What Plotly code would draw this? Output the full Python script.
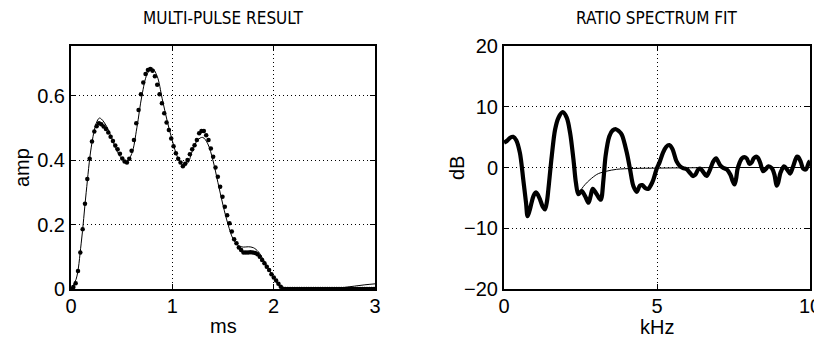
import plotly.graph_objects as go

# ---------------- data: left panel (multi-pulse result) ----------------
SAMPLE_STEP_MS = 0.023
pulse_amp = [
    0.000, 0.006, 0.018, 0.056, 0.113, 0.185, 0.264, 0.341, 0.404, 0.457,
    0.488, 0.505, 0.514, 0.511, 0.504, 0.496, 0.485, 0.472, 0.459, 0.445,
    0.433, 0.419, 0.405, 0.395, 0.392, 0.404, 0.429, 0.462, 0.514, 0.555,
    0.604, 0.640, 0.667, 0.679, 0.682, 0.677, 0.660, 0.633, 0.604, 0.576,
    0.545, 0.516, 0.493, 0.467, 0.443, 0.421, 0.404, 0.392, 0.381, 0.388,
    0.400, 0.418, 0.433, 0.446, 0.462, 0.483, 0.490, 0.490, 0.477, 0.462,
    0.436, 0.410, 0.377, 0.348, 0.317, 0.286, 0.255, 0.229, 0.204, 0.178,
    0.154, 0.142, 0.129, 0.121, 0.113, 0.113, 0.113, 0.114, 0.113, 0.112,
    0.108, 0.100, 0.090, 0.080, 0.069, 0.059, 0.046, 0.036, 0.026, 0.016,
    0.007, 0.001, 0.000, 0.000, 0.000, 0.000, 0.000, 0.000, 0.000, 0.000,
    0.000, 0.000, 0.000, 0.000, 0.000, 0.000, 0.000, 0.000, 0.000, 0.000,
    0.000, 0.000, 0.000, 0.000, 0.000, 0.000, 0.000, 0.000, 0.000, 0.000,
    0.000, 0.000, 0.000, 0.000, 0.000, 0.000, 0.000, 0.000, 0.000, 0.000,
    0.000,
]
pulse_t = [round(i * SAMPLE_STEP_MS, 4) for i in range(len(pulse_amp))]

model_t = [0.0, 0.05, 0.1, 0.15, 0.2, 0.25, 0.28, 0.3, 0.35, 0.4, 0.45, 0.5,
           0.55, 0.6, 0.65, 0.7, 0.75, 0.8, 0.85, 0.9, 0.95, 1.0, 1.05, 1.1,
           1.15, 1.2, 1.25, 1.3, 1.35, 1.4, 1.45, 1.5, 1.55, 1.6, 1.65, 1.7,
           1.75, 1.8, 1.85, 1.9, 1.95, 2.0, 2.05, 2.1, 2.3, 2.5, 2.6, 2.7,
           2.8, 2.9, 3.0]
model_amp = [0.0, 0.03, 0.14, 0.30, 0.44, 0.515, 0.53, 0.527, 0.505, 0.47,
             0.43, 0.405, 0.395, 0.42, 0.50, 0.60, 0.665, 0.685, 0.66, 0.59,
             0.52, 0.46, 0.41, 0.385, 0.39, 0.43, 0.462, 0.47, 0.45, 0.40,
             0.33, 0.26, 0.20, 0.155, 0.135, 0.13, 0.131, 0.128, 0.115, 0.09,
             0.062, 0.035, 0.012, 0.0, 0.0, 0.0, 0.002, 0.005, 0.009, 0.013,
             0.016]

left_xticks = [0, 1, 2, 3]
left_yticks = [0, 0.2, 0.4, 0.6]

# ---------------- data: right panel (ratio spectrum fit) ----------------
ratio_khz = [0.00, 0.10, 0.20, 0.30, 0.40, 0.52, 0.63, 0.72, 0.77, 0.83,
             0.90, 0.97, 1.05, 1.12, 1.18, 1.27, 1.34, 1.40, 1.45, 1.56,
             1.67, 1.78, 1.92, 2.05, 2.16, 2.27, 2.35, 2.43, 2.54, 2.65,
             2.76, 2.83, 2.90, 3.03, 3.16, 3.25, 3.32, 3.44, 3.55, 3.66,
             3.75, 3.85, 4.01, 4.12, 4.23, 4.34, 4.44, 4.52, 4.62, 4.72,
             4.80, 4.88, 4.99, 5.08, 5.20, 5.30, 5.40, 5.50, 5.64, 5.75,
             5.85, 5.97, 6.08, 6.17, 6.25, 6.35, 6.42, 6.52, 6.62, 6.72,
             6.84, 6.93, 7.06, 7.18, 7.28, 7.40, 7.47, 7.53, 7.58, 7.63,
             7.70, 7.77, 7.85, 7.93, 8.02, 8.09, 8.16, 8.24, 8.30, 8.37,
             8.47, 8.55, 8.64, 8.75, 8.84, 8.91, 8.96, 9.04, 9.15, 9.26,
             9.35, 9.45, 9.57, 9.62, 9.70, 9.78, 9.87, 9.97, 10.0]
ratio_db = [4.1, 4.4, 4.9, 5.05, 4.5, 2.4, -2.0, -5.8, -8.0, -7.2,
            -5.8, -4.6, -4.1, -4.6, -5.3, -6.5, -6.9, -5.7, -3.6, 1.86,
            6.25, 8.2, 9.1, 8.2, 5.7, 1.3, -2.5, -4.4, -3.9, -4.7,
            -5.8, -4.7, -3.5, -4.4, -5.3, -2.0, 1.9, 5.1, 6.1, 6.3,
            6.0, 5.4, 2.5, -0.3, -3.1, -4.0, -3.0, -2.9, -3.4, -3.5,
            -2.9, -2.0, -0.2, 0.8, 2.5, 3.4, 3.7, 3.1, 1.0, 0.2,
            -0.1, -0.3, -0.9, -1.4, -1.2, -0.3, -0.2, -0.8, -1.4, -0.5,
            1.0, 1.5, 0.4, -0.1, -0.3, -1.2, -2.2, -2.8, -2.0, -0.3,
            0.8, 1.5, 1.7, 1.5, 0.6, 0.8, 1.5, 1.8, 1.6, 0.8,
            -0.6, -0.3, 0.2, -0.1, -1.2, -3.0, -2.5, -0.8, 0.2, -0.4,
            -1.0, 0.2, 1.8, 1.7, 0.9, -0.2, -0.3, 0.9, 1.0]

fit_khz = [2.43, 2.54, 2.65, 2.81, 3.03, 3.14, 3.36, 3.68, 4.23, 5.04, 6.0, 7.0, 8.0, 9.0, 10.0]
fit_db = [-4.4, -3.5, -2.8, -2.0, -1.15, -0.9, -0.6, -0.3, -0.16, -0.1, -0.05, 0.0, 0.0, 0.0, 0.0]

right_xticks = [0, 5, 10]
right_yticks = [-20, -10, 0, 10, 20]

# ---------------- figure ----------------
PAGE_OFF = 8                      # default body margin of the html page
W, H = 822 - PAGE_OFF, 343 - PAGE_OFF
FONT = "Liberation Sans, Arial, Helvetica, sans-serif"
TITLE_FONT = "DejaVu Sans Condensed, Liberation Sans, Arial, sans-serif"
FS = 20
TITLE_FS = 17


def fx(px):
    return (px - PAGE_OFF) / W


def fy(py):
    return 1 - (py - PAGE_OFF) / H


fig = go.Figure()
fig.add_trace(go.Scatter(x=model_t, y=model_amp, mode="lines",
                         line=dict(color="black", width=1, shape="spline"),
                         xaxis="x", yaxis="y", showlegend=False, hoverinfo="skip"))
fig.add_trace(go.Scatter(x=pulse_t, y=pulse_amp, mode="markers",
                         marker=dict(color="black", size=4.5, line=dict(width=0)),
                         xaxis="x", yaxis="y", showlegend=False))
fig.add_trace(go.Scatter(x=fit_khz, y=fit_db, mode="lines",
                         line=dict(color="black", width=1, shape="spline"),
                         xaxis="x2", yaxis="y2", showlegend=False, hoverinfo="skip"))
fig.add_trace(go.Scatter(x=ratio_khz, y=ratio_db, mode="lines",
                         line=dict(color="black", width=4.2, shape="spline", smoothing=0.9),
                         xaxis="x2", yaxis="y2", showlegend=False))

# panel edges in page pixels
px_l, px_r = 71, 375
px2_l, px2_r = 504, 810
py_t, py_b = 46, 289
ydom = [fy(py_b), fy(py_t)]

axis_common = dict(showline=True, linecolor="black", linewidth=2, mirror="ticks",
                   ticks="inside", ticklen=5, tickwidth=1, tickcolor="black",
                   showgrid=True, gridcolor="black", gridwidth=1, griddash="1px,3px",
                   zeroline=False, automargin=False,
                   tickfont=dict(family=FONT, size=FS, color="black"))

fig.update_layout(
    width=W, height=H,
    margin=dict(l=0, r=0, t=0, b=0, autoexpand=False),
    paper_bgcolor="white", plot_bgcolor="white",
    font=dict(family=FONT, size=FS, color="black"),
    xaxis=dict(domain=[fx(px_l), fx(px_r)], range=[0, 3], tickvals=left_xticks,
               anchor="y", ticklabelstandoff=-2, **axis_common),
    yaxis=dict(domain=ydom, range=[0, 0.7535], tickvals=left_yticks,
               ticktext=[str(v) for v in left_yticks], anchor="x", **axis_common),
    xaxis2=dict(domain=[fx(px2_l), fx(px2_r)], range=[0, 10], tickvals=right_xticks,
                anchor="y2", ticklabelstandoff=-2, **axis_common),
    yaxis2=dict(domain=ydom, range=[-20, 20], tickvals=right_yticks,
                anchor="x2", **axis_common),
)


def ann(text, x, y, angle=0, size=FS, family=FONT):
    fig.add_annotation(text=text, x=fx(x), y=fy(y), xref="paper", yref="paper",
                       showarrow=False, textangle=angle,
                       font=dict(family=family, size=size, color="black"),
                       xanchor="center", yanchor="middle")


ann("MULTI-PULSE RESULT", (px_l + px_r) / 2, 18, size=TITLE_FS, family=TITLE_FONT)
ann("RATIO SPECTRUM FIT", (px2_l + px2_r) / 2, 18, size=TITLE_FS, family=TITLE_FONT)
ann("ms", (px_l + px_r) / 2, 326)
ann("kHz", (px2_l + px2_r) / 2, 327)
ann("amp", 22, 168, -90)
ann("dB", 457, 168, -90)

fig.write_html("out.html")
